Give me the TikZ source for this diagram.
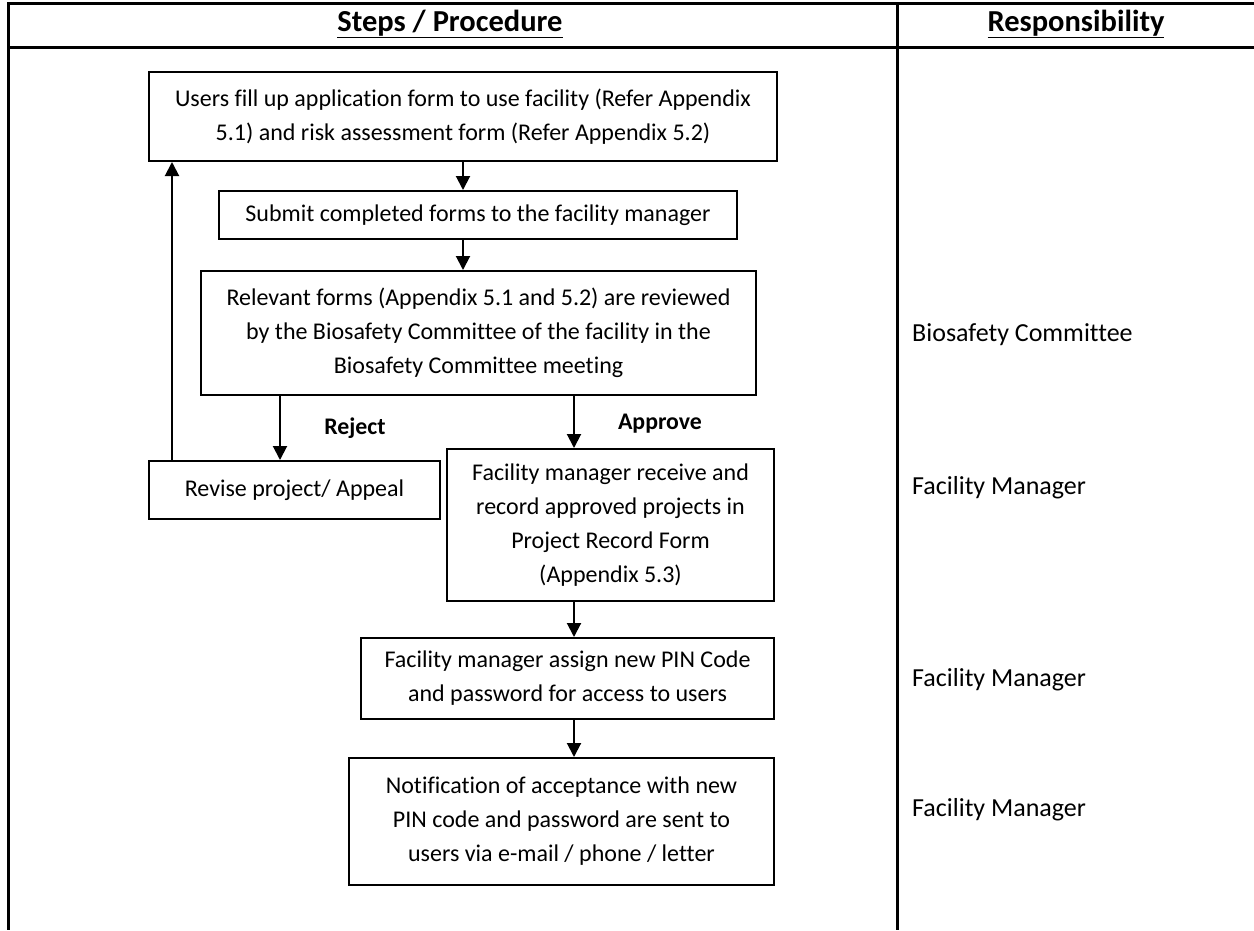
\documentclass[tikz,border=0pt]{standalone}
\usepackage{fontspec}
\setmainfont{Carlito}[Ligatures=NoCommon]
\usetikzlibrary{arrows.meta}

\begin{document}
\begin{tikzpicture}[x=1pt,y=-1pt,
  every node/.style={font=\fontsize{24}{34}\selectfont},
  procbox/.style={draw,line width=2pt,align=flush center,inner xsep=0pt,inner ysep=0pt},
  flow/.style={line width=2pt,-{Triangle[length=14pt,width=14pt]}},
  tableline/.style={line width=3pt},
  headtext/.style={font=\fontsize{30.5}{36}\selectfont\bfseries},
  choicetext/.style={font=\fontsize{23.8}{34}\selectfont\bfseries},
  resptext/.style={anchor=west,inner sep=0pt,font=\fontsize{26}{34}\selectfont}]
  \useasboundingbox (0,0) rectangle (1254,930);

  \draw[tableline] (1254,3) -- (8,3) -- (8,930);
  \draw[tableline] (8,47) -- (1254,47);
  \draw[tableline] (897,3) -- (897,930);

  \node[headtext] (stepshead) at (450,24) {\underline{Steps / Procedure}};
  \node[headtext] (resphead) at (1076,24) {\underline{Responsibility}};

  \node[procbox,text width=628pt,minimum height=89pt] (users) at (463,116.5)
    {Users fill up application form to use facility (Refer Appendix\\5.1) and risk assessment form (Refer Appendix 5.2)};
  \node[procbox,text width=518pt,minimum height=48pt] (submit) at (478,215)
    {Submit completed forms to the facility manager};
  \node[procbox,text width=555pt,minimum height=124pt] (review) at (478.5,333)
    {Relevant forms (Appendix 5.1 and 5.2) are reviewed\\by the Biosafety Committee of the facility in the\\Biosafety Committee meeting};
  \node[procbox,text width=291pt,minimum height=58pt] (revise) at (294.5,490)
    {Revise project/ Appeal};
  \node[procbox,text width=327pt,minimum height=152pt] (record) at (610.5,525)
    {Facility manager receive and\\record approved projects in\\Project Record Form\\(Appendix 5.3)};
  \node[procbox,text width=413pt,minimum height=81pt] (pin) at (567.5,678.5)
    {Facility manager assign new PIN Code\\and password for access to users};
  \node[procbox,text width=425pt,minimum height=127pt] (notify) at (561.5,821.5)
    {Notification of acceptance with new\\PIN code and password are sent to\\users via e-mail / phone / letter};

  \node[choicetext] (rejectlbl) at (355,428) {Reject};
  \node[choicetext] (approvelbl) at (660,424) {Approve};

  \node[resptext] (resp1) at (912,335) {Biosafety Committee};
  \node[resptext] (resp2) at (912,488) {Facility Manager};
  \node[resptext] (resp3) at (912,680) {Facility Manager};
  \node[resptext] (resp4) at (912,810) {Facility Manager};

  \coordinate (rejx) at (280,0);
  \coordinate (appx) at (574,0);
  \coordinate (backx) at (172,0);

  \draw[flow] (users.south) -- (submit.north -| users.south);
  \draw[flow] (submit.south -| users.south) -- (review.north -| users.south);
  \draw[flow] (review.south -| rejx) -- (revise.north -| rejx);
  \draw[flow] (review.south -| appx) -- (record.north -| appx);
  \draw[flow] (record.south -| appx) -- (pin.north -| appx);
  \draw[flow] (pin.south -| appx) -- (notify.north -| appx);
  \draw[flow] (revise.north -| backx) -- (users.south -| backx);
\end{tikzpicture}
\end{document}
